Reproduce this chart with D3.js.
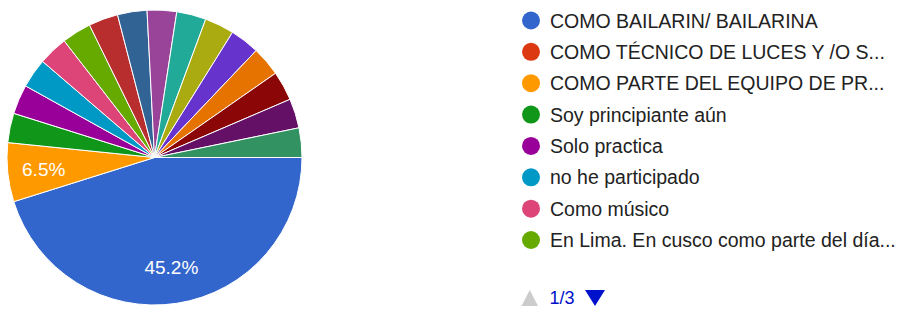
<!DOCTYPE html>
<html><head><meta charset="utf-8">
<script src="https://cdn.jsdelivr.net/npm/d3@7"></script>
<style>
html,body{margin:0;padding:0;background:#fff;}
svg{display:block;font-family:Arial,"Liberation Sans",sans-serif;}
</style></head>
<body><svg id="chart" width="904" height="309"></svg>
<script>
// Categories in legend / color order (Google Charts palette order)
const categories = [
  "COMO BAILARIN/ BAILARINA",
  "COMO TÉCNICO DE LUCES Y /O S...",
  "COMO PARTE DEL EQUIPO DE PR...",
  "Soy principiante aún",
  "Solo practica",
  "no he participado",
  "Como músico",
  "En Lima. En cusco como parte del día...",
  "Categoría 9","Categoría 10","Categoría 11","Categoría 12","Categoría 13",
  "Categoría 14","Categoría 15","Categoría 16","Categoría 17","Categoría 18"
];
const counts = [14, 0, 2, 1, 1, 1, 1, 1, 1, 1, 1, 1, 1, 1, 1, 1, 1, 1];
const colors = ["#3366cc","#dc3912","#ff9900","#109618","#990099","#0099c6","#dd4477",
  "#66aa00","#b82e2e","#316395","#994499","#22aa99","#aaaa11","#6633cc","#e67300",
  "#8b0707","#651067","#329262"];
const legendShown = 8;
const pageLabel = "1/3";

const svg = d3.select("#chart");
const cx = 154.5, cy = 157.5, R = 147.5;
const total = d3.sum(counts);
const data = categories.map((c,i)=>({name:c, value:counts[i], color:colors[i]}));

const pie = d3.pie().value(d=>d.value).sort(null)
  .startAngle(Math.PI/2).endAngle(Math.PI/2 + 2*Math.PI);
const arcs = pie(data).filter(a=>a.data.value>0);
const arc = d3.arc().innerRadius(0).outerRadius(R);
const labelArc = d3.arc().innerRadius(R*0.755).outerRadius(R*0.755);

const g = svg.append("g").attr("transform",`translate(${cx},${cy})`);
g.selectAll("path").data(arcs).join("path")
  .attr("d",arc).attr("fill",d=>d.data.color)
  .attr("stroke","#fff").attr("stroke-width",1);

g.selectAll("text.pl").data(arcs.filter(a=>a.data.value/total>=0.05)).join("text")
  .attr("class","pl")
  .attr("transform",d=>`translate(${labelArc.centroid(d)})`)
  .attr("text-anchor","middle").attr("dy","0.36em")
  .attr("fill","#fff").attr("font-size",19)
  .text(d=>(d.data.value/total*100).toFixed(1)+"%");

// Legend
const y = d3.scaleLinear().domain([0,legendShown-1]).range([20.5,240]);
const lg = svg.append("g");
const rows = lg.selectAll("g").data(data.slice(0,legendShown)).join("g")
  .attr("transform",(d,i)=>`translate(531,${y(i)})`);
rows.append("circle").attr("r",9).attr("fill",d=>d.color);
rows.append("text").attr("x",19).attr("dy","0.36em")
  .attr("font-size",19.5).attr("fill","#222").text(d=>d.name);

// Pager
const pg = svg.append("g").attr("transform","translate(0,298)");
pg.append("path").attr("d","M521.5,8 L538,8 L529.75,-8 Z").attr("fill","#cccccc");
pg.append("text").attr("x",549.5).attr("dy","0.36em").attr("font-size",18)
  .attr("fill","#0011cc").text(pageLabel);
pg.append("path").attr("d","M585,-8 L605,-8 L595,8 Z").attr("fill","#0011cc");
</script></body></html>
